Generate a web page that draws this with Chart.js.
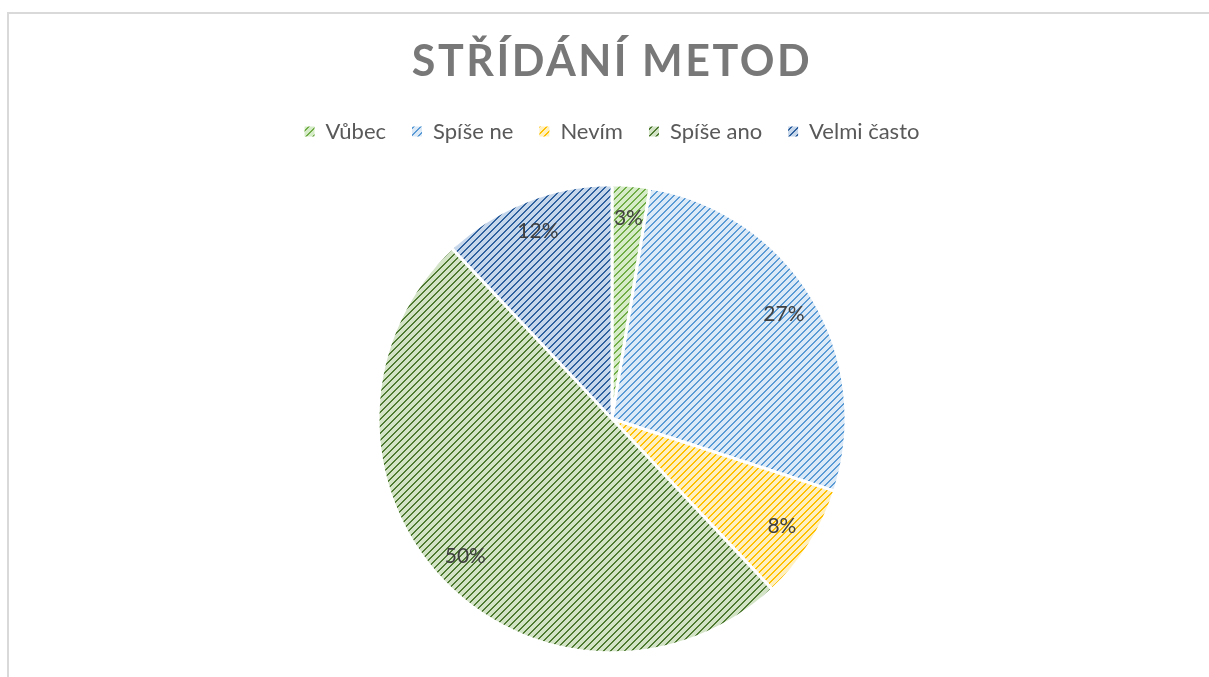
<!DOCTYPE html>
<html>
<head>
<meta charset="utf-8">
<script src="https://cdn.jsdelivr.net/npm/chart.js@4"></script>
<style>
  html, body { margin: 0; padding: 0; background: #fff; overflow: hidden; }
  #frame { position: absolute; left: 7px; top: 12px; width: 1220px; height: 700px; border: 2px solid #d9d9d9; box-sizing: border-box; }
  #wrap { position: absolute; left: 0; top: 0; width: 1209px; height: 677px; }
</style>
</head>
<body>
<div id="frame"></div>
<div id="wrap"><canvas id="myChart" width="1209" height="677"></canvas></div>
<script>
var chartTitle = 'STŘÍDÁNÍ METOD';
var categories = ['Vůbec', 'Spíše ne', 'Nevím', 'Spíše ano', 'Velmi často'];
var shares = [2.6, 27.4, 8, 50, 12];
var stripeColors = ['#70ad47', '#5b9bd5', '#ffc000', '#4e7a31', '#2f619e'];
var fillColors = ['#d6ebc8', '#dceaf7', '#fff0c2', '#d3e4c6', '#c6d6eb'];

// diagonal stripe pattern like Excel "wide upward diagonal"
function makePattern(fg, bg) {
    var c = document.createElement('canvas');
    c.width = 7; c.height = 7;
    var g = c.getContext('2d');
    g.fillStyle = bg;
    g.fillRect(0, 0, 7, 7);
    g.fillStyle = fg;
    for (var x = 0; x < 7; x++) {
        for (var y = 0; y < 7; y++) {
            var k = (x + y) % 7;
            if (k == 0 || k == 1) g.fillRect(x, y, 1, 1);
        }
    }
    return g.createPattern(c, 'repeat');
}

var patterns = [];
for (var i = 0; i < categories.length; i++) {
    patterns.push(makePattern(stripeColors[i], fillColors[i]));
}

var pctLabels = {
    id: 'pctLabels',
    afterDatasetsDraw: function (chart) {
        var ctx = chart.ctx;
        var meta = chart.getDatasetMeta(0);
        ctx.save();
        ctx.font = '21px Lato';
        ctx.fillStyle = '#404040';
        ctx.textAlign = 'center';
        ctx.textBaseline = 'middle';
        meta.data.forEach(function (arc, idx) {
            var p = arc.getProps(['x', 'y', 'startAngle', 'endAngle', 'outerRadius']);
            var mid = (p.startAngle + p.endAngle) / 2;
            var r = p.outerRadius * 0.86;
            ctx.fillText(Math.round(shares[idx]) + '%', p.x + Math.cos(mid) * r, p.y + Math.sin(mid) * r);
        });
        ctx.restore();
    }
};

var spacedTitle = {
    id: 'spacedTitle',
    afterLayout: function (chart) {
        var tb = chart.titleBlock;
        if (tb && !tb._spaced) {
            var orig = tb.draw;
            tb.draw = function () {
                chart.ctx.save();
                chart.ctx.letterSpacing = '2.5px';
                orig.apply(this, arguments);
                chart.ctx.restore();
            };
            tb._spaced = true;
        }
    }
};

// a bit more room under the legend
var legendGap = {
    id: 'legendGap',
    beforeLayout: function (chart) {
        var lg = chart.legend;
        if (lg && !lg._gap) {
            var origFit = lg.fit;
            lg.fit = function () {
                origFit.apply(this, arguments);
                this.height += 8;
            };
            lg._gap = true;
        }
    }
};

var ctx = document.getElementById('myChart').getContext('2d');
var chart = new Chart(ctx, {
    type: 'pie',
    data: {
        labels: categories,
        datasets: [{
            data: shares,
            backgroundColor: patterns,
            borderColor: '#ffffff',
            borderWidth: 3,
            radius: 234
        }]
    },
    plugins: [pctLabels, spacedTitle, legendGap],
    options: {
        responsive: false,
        animation: false,
        layout: { padding: { top: 0, bottom: 0, left: 15 } },
        plugins: {
            tooltip: { enabled: false },
            title: {
                display: true,
                text: chartTitle,
                color: '#787878',
                font: { family: 'Lato', size: 43, weight: 'bold' },
                padding: { top: 36, bottom: 7 }
            },
            legend: {
                position: 'top',
                labels: {
                    color: '#595959',
                    font: { family: 'Lato', size: 22 },
                    boxWidth: 10,
                    boxHeight: 10,
                    padding: 26,
                    generateLabels: function (chart) {
                        return categories.map(function (name, idx) {
                            return {
                                text: name,
                                fillStyle: patterns[idx],
                                strokeStyle: patterns[idx],
                                lineWidth: 0,
                                fontColor: '#595959',
                                index: idx,
                                hidden: false
                            };
                        });
                    }
                }
            }
        }
    }
});
</script>
</body>
</html>
